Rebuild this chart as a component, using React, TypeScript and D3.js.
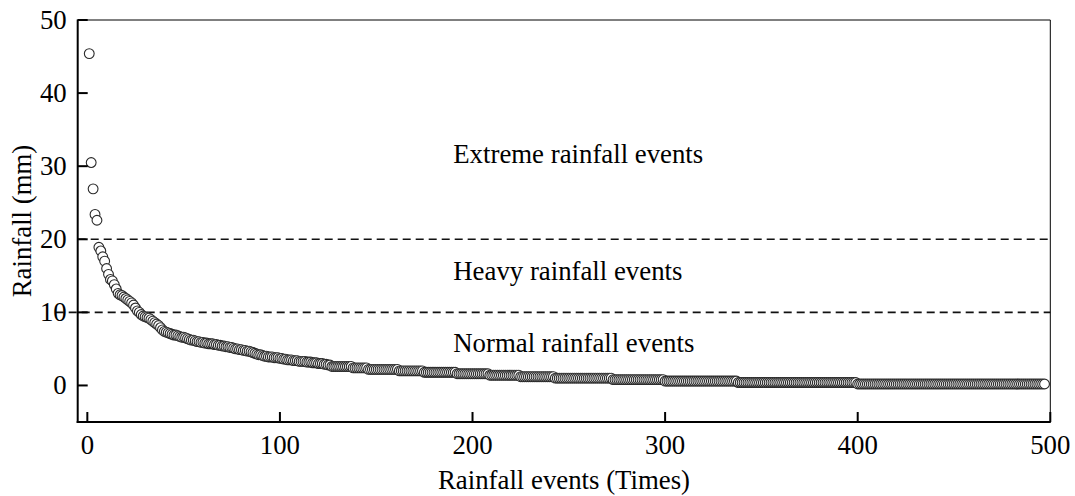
import React from "react";
import * as d3 from "d3";

// Rainfall per event (mm), ranked from largest to smallest — events 1..126
const leadingEvents: number[] = [
  45.4, 30.5, 26.9, 23.4, 22.6, 18.9, 18.4, 17.6, 17.0, 16.0,
  15.2, 14.5, 14.3, 13.8, 13.2, 12.6, 12.4, 12.3, 12.1, 11.9,
  11.7, 11.5, 11.3, 11.0, 10.6, 10.2, 10.0, 9.7, 9.5, 9.4,
  9.3, 9.2, 9.0, 8.8, 8.6, 8.4, 8.2, 7.9, 7.6, 7.4,
  7.3, 7.2, 7.1, 7.0, 6.9, 6.9, 6.8, 6.7, 6.6, 6.6,
  6.5, 6.4, 6.3, 6.2, 6.2, 6.1, 6.0, 6.0, 5.9, 5.9,
  5.8, 5.8, 5.7, 5.7, 5.7, 5.6, 5.6, 5.5, 5.5, 5.4,
  5.4, 5.3, 5.3, 5.2, 5.2, 5.1, 5.0, 5.0, 4.9, 4.9,
  4.8, 4.8, 4.7, 4.7, 4.6, 4.5, 4.4, 4.3, 4.2, 4.2,
  4.1, 4.0, 4.0, 3.9, 3.9, 3.9, 3.8, 3.8, 3.8, 3.7,
  3.7, 3.6, 3.6, 3.5, 3.5, 3.5, 3.4, 3.4, 3.4, 3.3,
  3.3, 3.3, 3.3, 3.2, 3.2, 3.2, 3.1, 3.1, 3.1, 3.0,
  3.0, 3.0, 2.9, 2.9, 2.8, 2.8,
];

// Small events repeat the same gauge reading: [value (mm), first event, last event]
const plateauEvents: [number, number, number][] = [
  [2.6, 127, 137],
  [2.4, 138, 145],
  [2.2, 146, 161],
  [2.0, 162, 174],
  [1.8, 175, 191],
  [1.6, 192, 208],
  [1.4, 209, 224],
  [1.2, 225, 242],
  [1.0, 243, 272],
  [0.8, 273, 299],
  [0.6, 300, 337],
  [0.4, 338, 399],
  [0.2, 400, 497],
];

const xTicks = [0, 100, 200, 300, 400, 500];
const yTicks = [0, 10, 20, 30, 40, 50];
const thresholds = [20, 10];
const zoneLabels: { text: string; value: number }[] = [
  { text: "Extreme rainfall events", value: 30.4 },
  { text: "Heavy rainfall events", value: 14.4 },
  { text: "Normal rainfall events", value: 4.6 },
];
const zoneLabelEvent = 190;

const W = 1075;
const H = 496;
const FONT = "'Liberation Serif', 'Times New Roman', Times, serif";

type Pt = { event: number; rain: number };

function buildSeries(): Pt[] {
  const pts: Pt[] = leadingEvents.map((rain, i) => ({ event: i + 1, rain }));
  for (const [rain, from, to] of plateauEvents) {
    for (let e = from; e <= to; e++) pts.push({ event: e, rain });
  }
  return pts;
}

export default function App() {
  const data = buildSeries();
  const left = 77.7;
  const right = 1050.3;
  const top = 20;
  const bottom = 422;

  const x = d3.scaleLinear().domain([-5, 500]).range([left, right]);
  const y = d3.scaleLinear().domain([-5, 50]).range([bottom, top]);

  const tickLen = 10;
  const fs = 26.8;

  return (
    <div style={{ position: "absolute", left: 0, top: 0 }}>
      <svg width={W} height={H} style={{ display: "block", background: "#fff" }}>
        {/* class thresholds */}
        {thresholds.map((t) => (
          <line
            key={t}
            x1={t === 10 ? left - 22 : left}
            x2={right}
            y1={y(t)}
            y2={y(t)}
            stroke="#111"
            strokeWidth={1.6}
            strokeDasharray="8,5"
          />
        ))}

        {/* ranked events */}
        {data.map((d) => (
          <circle
            key={d.event}
            cx={x(d.event)}
            cy={y(d.rain)}
            r={4.9}
            fill="#fff"
            stroke="#2a2a2a"
            strokeWidth={1.1}
          />
        ))}

        {/* frame */}
        <line x1={left} x2={right} y1={top} y2={top} stroke="#000" strokeWidth={1} />
        <line x1={right} x2={right} y1={top} y2={bottom} stroke="#000" strokeWidth={1} />
        <line x1={left} x2={left} y1={top - 0.5} y2={bottom + 1} stroke="#000" strokeWidth={2} />
        <line x1={left - 1} x2={right + 0.5} y1={bottom} y2={bottom} stroke="#000" strokeWidth={2} />

        {/* y axis */}
        {yTicks.map((t) => (
          <g key={t}>
            <line x1={left} x2={left + tickLen} y1={y(t)} y2={y(t)} stroke="#000" strokeWidth={2} />
            <text
              x={left - 11}
              y={y(t)}
              textAnchor="end"
              dominantBaseline="central"
              fontFamily={FONT}
              fontSize={fs}
              fill="#000"
            >
              {t}
            </text>
          </g>
        ))}

        {/* x axis */}
        {xTicks.map((t) => (
          <g key={t}>
            <line x1={x(t)} x2={x(t)} y1={bottom} y2={bottom - tickLen} stroke="#000" strokeWidth={2} />
            <text x={x(t)} y={454} textAnchor="middle" fontFamily={FONT} fontSize={fs} fill="#000">
              {t}
            </text>
          </g>
        ))}

        {/* axis titles */}
        <text
          x={(left + right) / 2}
          y={489}
          textAnchor="middle"
          fontFamily={FONT}
          fontSize={fs}
          fill="#000"
        >
          Rainfall events (Times)
        </text>
        <text
          transform={`translate(31, ${(top + bottom) / 2}) rotate(-90)`}
          textAnchor="middle"
          fontFamily={FONT}
          fontSize={fs}
          fill="#000"
        >
          Rainfall (mm)
        </text>

        {/* zone labels */}
        {zoneLabels.map((z) => (
          <text
            key={z.text}
            x={x(zoneLabelEvent)}
            y={y(z.value)}
            fontFamily={FONT}
            fontSize={fs}
            fill="#000"
          >
            {z.text}
          </text>
        ))}
      </svg>
    </div>
  );
}
